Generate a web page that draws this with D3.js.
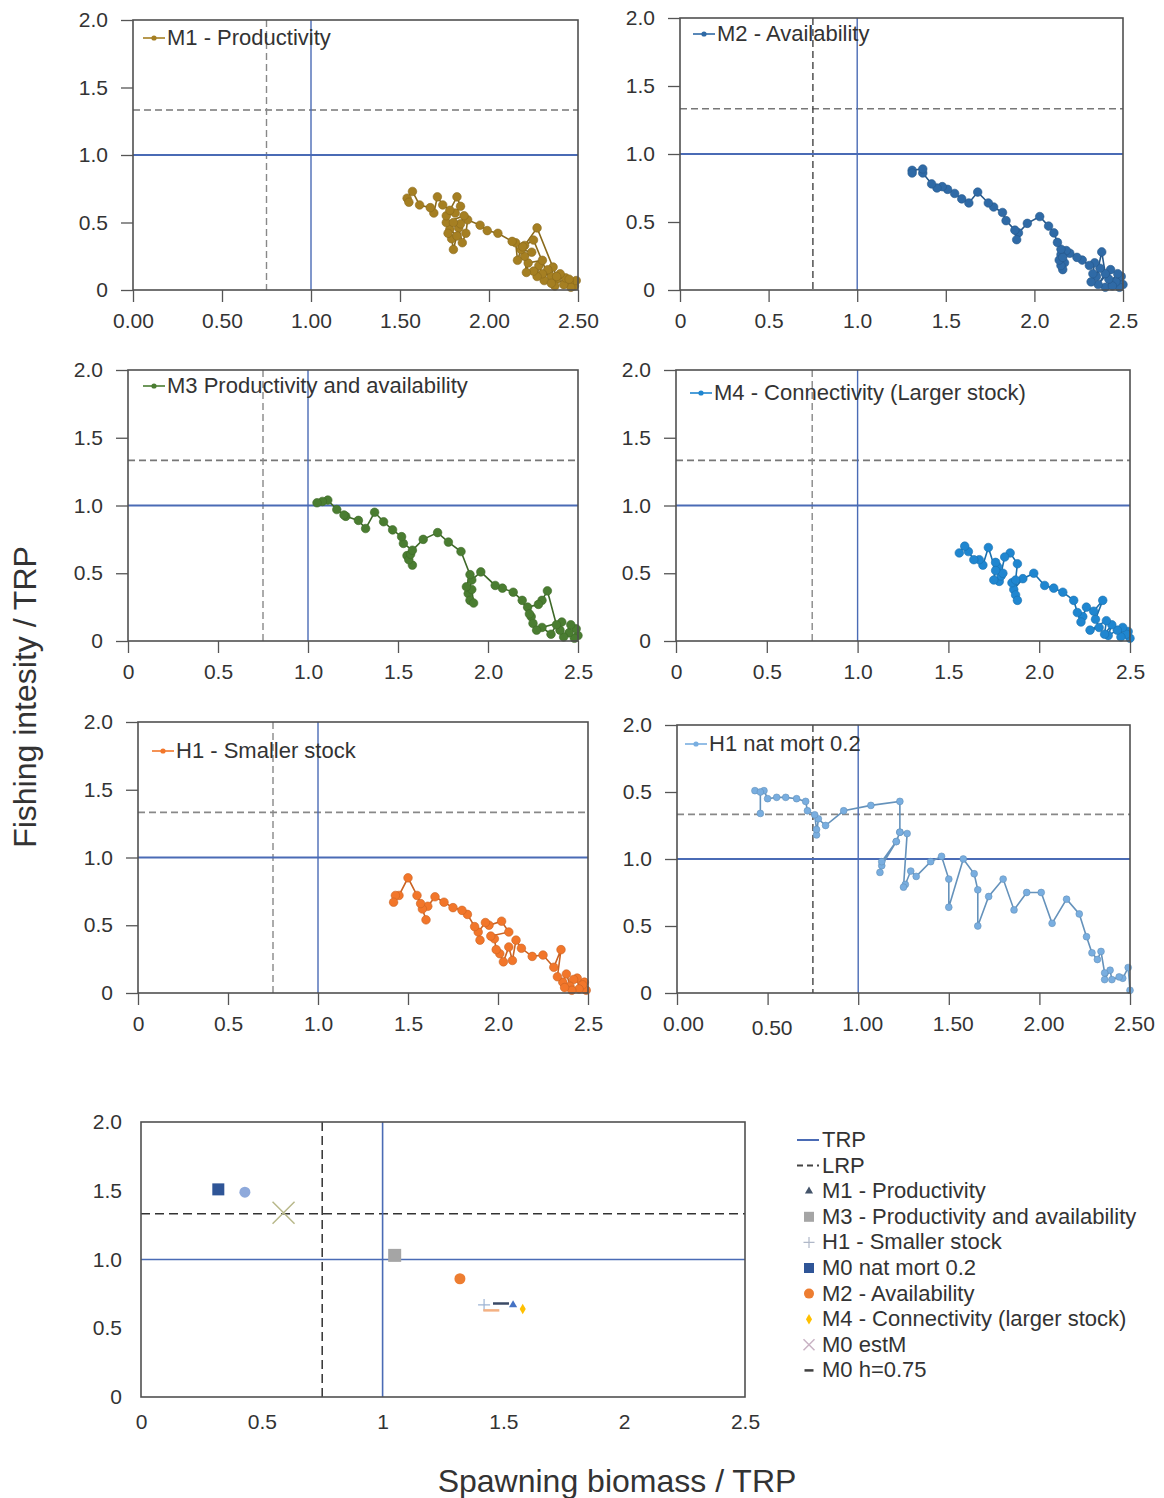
<!DOCTYPE html>
<html><head><meta charset="utf-8">
<script src="https://cdn.jsdelivr.net/npm/d3@7"></script>
<style>
body{margin:0;background:#fff}
svg{display:block}
text{font-family:"Liberation Sans",Arial,sans-serif;fill:#333}
</style>
</head><body>
<svg id="chart" width="1164" height="1498"></svg>
<script>
// ---------- data ----------
const X_TICK_VALUES = [0, 0.5, 1, 1.5, 2, 2.5];
const Y_TICK_VALUES = [0, 0.5, 1, 1.5, 2];
const X_LABELS_2DEC = ["0.00", "0.50", "1.00", "1.50", "2.00", "2.50"];
const X_LABELS_1DEC = ["0", "0.5", "1.0", "1.5", "2.0", "2.5"];
const X_LABELS_BOTTOM = ["0", "0.5", "1", "1.5", "2", "2.5"];
const Y_LABELS = ["0", "0.5", "1.0", "1.5", "2.0"];
const Y_LABELS_P6 = ["0", "0.5", "1.0", "0.5", "2.0"];
const TRP = 1.0;
const LRP_X = 0.75;
const LRP_Y = 1.333;

const M1 = [[2.48,0.03],[2.49,0.07],[2.45,0.06],[2.46,0.02],[2.42,0.04],[2.43,0.09],[2.38,0.08],[2.40,0.12],[2.37,0.03],[2.35,0.10],[2.36,0.17],[2.33,0.15],[2.31,0.07],[2.30,0.12],[2.28,0.18],[2.27,0.10],[2.25,0.14],[2.30,0.22],[2.22,0.20],[2.21,0.13],[2.20,0.25],[2.24,0.28],[2.18,0.30],[2.16,0.22],[2.15,0.35],[2.20,0.33],[2.27,0.46],[2.38,0.10],[2.45,0.08],[2.35,0.05],[2.25,0.37],[2.19,0.32],[2.13,0.36],[2.05,0.42],[1.99,0.44],[1.95,0.48],[1.88,0.52],[1.87,0.42],[1.85,0.35],[1.83,0.46],[1.80,0.30],[1.79,0.38],[1.82,0.40],[1.78,0.45],[1.76,0.50],[1.86,0.55],[1.84,0.49],[1.80,0.50],[1.77,0.42],[1.76,0.55],[1.81,0.57],[1.84,0.62],[1.82,0.69],[1.78,0.59],[1.74,0.63],[1.71,0.69],[1.69,0.57],[1.67,0.61],[1.61,0.63],[1.57,0.73],[1.54,0.68],[1.55,0.65]];
const M2 = [[2.50,0.04],[2.49,0.10],[2.48,0.02],[2.46,0.06],[2.47,0.12],[2.40,0.02],[2.44,0.03],[2.42,0.08],[2.43,0.15],[2.36,0.04],[2.40,0.12],[2.38,0.28],[2.35,0.10],[2.37,0.16],[2.32,0.06],[2.33,0.12],[2.34,0.20],[2.31,0.18],[2.27,0.22],[2.24,0.24],[2.20,0.27],[2.18,0.29],[2.15,0.26],[2.17,0.20],[2.16,0.15],[2.15,0.18],[2.14,0.22],[2.16,0.24],[2.15,0.30],[2.13,0.35],[2.11,0.42],[2.08,0.47],[2.03,0.54],[1.96,0.49],[1.91,0.42],[1.90,0.37],[1.89,0.44],[1.84,0.51],[1.82,0.57],[1.77,0.61],[1.74,0.64],[1.68,0.72],[1.63,0.64],[1.59,0.67],[1.55,0.71],[1.51,0.74],[1.48,0.76],[1.45,0.75],[1.42,0.78],[1.37,0.86],[1.37,0.89],[1.31,0.88],[1.31,0.86]];
const M3 = [[2.50,0.04],[2.49,0.09],[2.48,0.02],[2.45,0.06],[2.46,0.12],[2.42,0.03],[2.40,0.08],[2.41,0.14],[2.30,0.10],[2.35,0.05],[2.38,0.12],[2.33,0.37],[2.30,0.30],[2.28,0.27],[2.22,0.25],[2.24,0.18],[2.25,0.13],[2.23,0.20],[2.27,0.08],[2.19,0.30],[2.14,0.36],[2.08,0.39],[2.04,0.41],[1.96,0.51],[1.91,0.45],[1.89,0.35],[1.90,0.30],[1.92,0.28],[1.91,0.38],[1.88,0.40],[1.90,0.49],[1.85,0.66],[1.78,0.73],[1.72,0.80],[1.64,0.75],[1.55,0.63],[1.58,0.56],[1.56,0.60],[1.57,0.64],[1.58,0.67],[1.53,0.72],[1.52,0.77],[1.47,0.82],[1.42,0.88],[1.37,0.95],[1.32,0.83],[1.28,0.89],[1.21,0.92],[1.20,0.93],[1.16,0.97],[1.11,1.04],[1.08,1.03],[1.05,1.02]];
const M4 = [[2.50,0.02],[2.49,0.07],[2.48,0.05],[2.45,0.03],[2.46,0.10],[2.43,0.08],[2.38,0.04],[2.40,0.12],[2.36,0.05],[2.37,0.15],[2.28,0.08],[2.33,0.10],[2.31,0.16],[2.35,0.30],[2.30,0.22],[2.26,0.25],[2.24,0.18],[2.23,0.14],[2.21,0.21],[2.19,0.30],[2.13,0.36],[2.08,0.39],[2.03,0.41],[1.97,0.50],[1.91,0.46],[1.86,0.38],[1.85,0.43],[1.87,0.34],[1.88,0.30],[1.87,0.45],[1.88,0.57],[1.84,0.65],[1.81,0.62],[1.78,0.44],[1.79,0.48],[1.80,0.50],[1.77,0.55],[1.76,0.58],[1.75,0.45],[1.76,0.52],[1.72,0.69],[1.69,0.56],[1.67,0.60],[1.64,0.60],[1.61,0.66],[1.59,0.70],[1.56,0.65]];
const H1 = [[2.49,0.02],[2.48,0.08],[2.47,0.06],[2.45,0.03],[2.44,0.11],[2.42,0.10],[2.40,0.05],[2.41,0.02],[2.38,0.14],[2.36,0.08],[2.37,0.04],[2.33,0.12],[2.35,0.32],[2.31,0.19],[2.25,0.28],[2.19,0.27],[2.13,0.33],[2.10,0.39],[2.08,0.24],[2.06,0.34],[2.03,0.23],[2.01,0.29],[1.99,0.32],[1.98,0.40],[1.96,0.42],[2.06,0.45],[2.02,0.53],[1.95,0.50],[1.93,0.52],[1.89,0.45],[1.90,0.39],[1.87,0.49],[1.83,0.58],[1.80,0.61],[1.75,0.63],[1.70,0.67],[1.65,0.71],[1.61,0.64],[1.58,0.62],[1.60,0.54],[1.57,0.66],[1.55,0.72],[1.50,0.85],[1.45,0.72],[1.43,0.72],[1.42,0.67]];
const H1_NATMORT = [[2.50,0.02],[2.49,0.19],[2.46,0.11],[2.44,0.12],[2.40,0.10],[2.39,0.17],[2.36,0.10],[2.36,0.15],[2.34,0.31],[2.32,0.25],[2.29,0.30],[2.26,0.42],[2.22,0.59],[2.15,0.70],[2.07,0.52],[2.01,0.75],[1.93,0.75],[1.86,0.62],[1.80,0.85],[1.72,0.72],[1.66,0.50],[1.66,0.77],[1.64,0.89],[1.58,1.00],[1.50,0.64],[1.50,0.85],[1.46,1.02],[1.40,0.98],[1.32,0.87],[1.29,0.91],[1.26,0.81],[1.25,0.79],[1.27,1.19],[1.23,1.20],[1.21,1.13],[1.13,0.95],[1.12,0.90],[1.13,0.98],[1.21,1.13],[1.23,1.20],[1.23,1.43],[1.07,1.40],[0.92,1.36],[0.82,1.25],[0.78,1.30],[0.77,1.18],[0.77,1.22],[0.76,1.33],[0.72,1.36],[0.71,1.43],[0.66,1.45],[0.60,1.46],[0.55,1.46],[0.50,1.45],[0.48,1.51],[0.43,1.51],[0.46,1.50],[0.46,1.34]];

const PANEL_TITLES = ["M1 - Productivity", "M2 - Availability", "M3 Productivity and availability", "M4 - Connectivity (Larger stock)", "H1 - Smaller stock", "H1 nat mort 0.2"];
const PANEL_COLORS = ["#a57f22", "#2f6aa6", "#4a7d31", "#1f86d0", "#f2762a", "#79aee0"];

const SUMMARY_NAMES = ["M0 nat mort 0.2", "H1 nat mort 0.2", "M0 estM", "M3 - Productivity and availability", "M2 - Availability", "H1 - Smaller stock", "M0 h=0.75", "M1 - Productivity", "M4 - Connectivity (larger stock)", "M0 h=0.75 (alt)"];
const SUMMARY_X = [0.32, 0.43, 0.59, 1.05, 1.32, 1.42, 1.49, 1.54, 1.58, 1.45];
const SUMMARY_Y = [1.51, 1.49, 1.34, 1.03, 0.86, 0.67, 0.68, 0.67, 0.64, 0.63];
const SUMMARY_SHAPES = ["square", "circle", "cross", "square", "circle", "plus", "dash", "triangle", "diamond", "dash"];
const SUMMARY_COLORS = ["#2f5597", "#8ea9db", "#b8b88a", "#a5a5a5", "#ed7d31", "#9db4d4", "#3b4a66", "#4472c4", "#ffc000", "#f4b183"];

const LEGEND_LABELS = ["TRP", "LRP", "M1 - Productivity", "M3 - Productivity and availability", "H1 - Smaller stock", "M0 nat mort 0.2", "M2 - Availability", "M4 - Connectivity (larger stock)", "M0 estM", "M0 h=0.75"];
const LEGEND_SHAPES = ["line", "dashline", "triangle", "square", "plus", "square", "circle", "diamond", "cross", "dash"];
const LEGEND_COLORS = ["#4a6bb5", "#444", "#44546a", "#a5a5a5", "#b0b8c8", "#2f5597", "#ed7d31", "#ffc000", "#c9b3c4", "#404040"];

// ---------- layout ----------
const svg = d3.select("#chart");
const FONT_TICK = 21;
const FONT_LEG = 22;
const TRP_COLOR = "#4a6bb5";

const PANELS = [
  {l:133, r:578, t:20, b:290, data:M1, xl:X_LABELS_2DEC, yl:Y_LABELS, lrpV:"#888", lrpH:"#777", leg:[10,18]},
  {l:680, r:1123, t:18, b:290, data:M2, xl:X_LABELS_1DEC, yl:Y_LABELS, lrpV:"#444", lrpH:"#777", leg:[13,16]},
  {l:128, r:578, t:370, b:641, data:M3, xl:X_LABELS_1DEC, yl:Y_LABELS, lrpV:"#888", lrpH:"#777", leg:[15,16]},
  {l:676, r:1130, t:370, b:641, data:M4, xl:X_LABELS_1DEC, yl:Y_LABELS, lrpV:"#888", lrpH:"#777", leg:[14,23]},
  {l:138, r:588, t:722, b:993, data:H1, xl:X_LABELS_1DEC, yl:Y_LABELS, lrpV:"#888", lrpH:"#888", leg:[14,29]},
  {l:677, r:1130, t:725, b:993, data:H1_NATMORT, xl:X_LABELS_2DEC, yl:Y_LABELS_P6, lrpV:"#444", lrpH:"#888", leg:[8,19]}
];

function styleAxis(g){
  g.select(".domain").remove();
  g.selectAll(".tick line").attr("stroke","#555").attr("stroke-width",1.3);
  g.selectAll(".tick text").attr("font-size",FONT_TICK).attr("fill","#333")
    .style("font-family",'"Liberation Sans",Arial,sans-serif');
}

PANELS.forEach((p, i) => {
  const x = d3.scaleLinear().domain([0, 2.5]).range([p.l, p.r]);
  const y = d3.scaleLinear().domain([0, 2]).range([p.b, p.t]);
  const g = svg.append("g");
  const color = PANEL_COLORS[i];

  // reference lines
  g.append("line").attr("x1",p.l).attr("x2",p.r).attr("y1",y(LRP_Y)).attr("y2",y(LRP_Y))
    .attr("stroke",p.lrpH).attr("stroke-width",1.6).attr("stroke-dasharray","7,4");
  g.append("line").attr("x1",x(LRP_X)).attr("x2",x(LRP_X)).attr("y1",p.t).attr("y2",p.b)
    .attr("stroke",p.lrpV).attr("stroke-width",1.4).attr("stroke-dasharray","7,4");
  g.append("line").attr("x1",p.l).attr("x2",p.r).attr("y1",y(TRP)).attr("y2",y(TRP))
    .attr("stroke",TRP_COLOR).attr("stroke-width",1.8);
  g.append("line").attr("x1",x(TRP)).attr("x2",x(TRP)).attr("y1",p.t).attr("y2",p.b)
    .attr("stroke",TRP_COLOR).attr("stroke-width",1.4);

  // trajectory
  const lineColor = d3.color(color).darker(0.5).formatHex();
  g.append("path").datum(p.data)
    .attr("d", d3.line().x(d => x(d[0])).y(d => y(d[1])))
    .attr("fill","none").attr("stroke",lineColor).attr("stroke-width",1.6);
  const rad = i === 5 ? 3.4 : 4.3;
  g.selectAll("circle.pt").data(p.data).enter().append("circle")
    .attr("class","pt").attr("cx",d => x(d[0])).attr("cy",d => y(d[1]))
    .attr("r",rad).attr("fill",color).attr("stroke",lineColor).attr("stroke-width",0.6);

  // frame
  g.append("rect").attr("x",p.l).attr("y",p.t).attr("width",p.r-p.l).attr("height",p.b-p.t)
    .attr("fill","none").attr("stroke","#505050").attr("stroke-width",1.6);

  // axes
  const ax = g.append("g").attr("transform",`translate(0,${p.b})`)
    .call(d3.axisBottom(x).tickValues(X_TICK_VALUES).tickFormat((d,k) => p.xl[k]).tickSize(12).tickPadding(11));
  styleAxis(ax);
  if (i === 5) ax.selectAll(".tick text").attr("dx", (d,k) => k === 0 ? 6 : 4).attr("dy", (d,k) => k === 1 ? "0.9em" : "0.71em");
  const ay = g.append("g").attr("transform",`translate(${p.l},0)`)
    .call(d3.axisLeft(y).tickValues(Y_TICK_VALUES).tickFormat((d,k) => p.yl[k]).tickSize(12).tickPadding(13));
  styleAxis(ay);

  // inner legend
  const lx = p.l + p.leg[0], ly = p.t + p.leg[1];
  g.append("line").attr("x1",lx).attr("x2",lx+22).attr("y1",ly).attr("y2",ly)
    .attr("stroke",color).attr("stroke-width",1.6);
  g.append("circle").attr("cx",lx+11).attr("cy",ly).attr("r",2.6).attr("fill",color);
  g.append("text").attr("x",lx+24).attr("y",ly+7).attr("font-size",FONT_LEG).attr("fill","#222")
    .text(PANEL_TITLES[i]);
});

// ---------- summary panel ----------
const S = {l:141, r:745, t:1122, b:1397};
const sx = d3.scaleLinear().domain([0, 2.5]).range([S.l, S.r]);
const sy = d3.scaleLinear().domain([0, 2]).range([S.b, S.t]);
const sg = svg.append("g");
sg.append("line").attr("x1",S.l).attr("x2",S.r).attr("y1",sy(LRP_Y)).attr("y2",sy(LRP_Y))
  .attr("stroke","#333").attr("stroke-width",1.5).attr("stroke-dasharray","9,5");
sg.append("line").attr("x1",sx(LRP_X)).attr("x2",sx(LRP_X)).attr("y1",S.t).attr("y2",S.b)
  .attr("stroke","#333").attr("stroke-width",1.5).attr("stroke-dasharray","9,5");
sg.append("line").attr("x1",S.l).attr("x2",S.r).attr("y1",sy(TRP)).attr("y2",sy(TRP))
  .attr("stroke",TRP_COLOR).attr("stroke-width",1.6);
sg.append("line").attr("x1",sx(TRP)).attr("x2",sx(TRP)).attr("y1",S.t).attr("y2",S.b)
  .attr("stroke",TRP_COLOR).attr("stroke-width",1.6);

function drawShape(g, shape, cx, cy, color, size) {
  const s = size;
  if (shape === "square") {
    g.append("rect").attr("x",cx-s/2).attr("y",cy-s/2).attr("width",s).attr("height",s).attr("fill",color);
  } else if (shape === "circle") {
    g.append("circle").attr("cx",cx).attr("cy",cy).attr("r",s/2).attr("fill",color);
  } else if (shape === "triangle") {
    g.append("path").attr("d",d3.symbol().type(d3.symbolTriangle).size(s*s*0.45)()).attr("transform",`translate(${cx},${cy})`).attr("fill",color);
  } else if (shape === "diamond") {
    g.append("path").attr("d",d3.symbol().type(d3.symbolDiamond).size(s*s*0.5)()).attr("transform",`translate(${cx},${cy})`).attr("fill",color);
  } else if (shape === "cross") {
    g.append("path").attr("d",`M${cx-s/2},${cy-s/2}L${cx+s/2},${cy+s/2}M${cx-s/2},${cy+s/2}L${cx+s/2},${cy-s/2}`).attr("stroke",color).attr("stroke-width",1.5);
  } else if (shape === "plus") {
    g.append("path").attr("d",`M${cx-s/2},${cy}L${cx+s/2},${cy}M${cx},${cy-s/2}L${cx},${cy+s/2}`).attr("stroke",color).attr("stroke-width",1.2);
  } else if (shape === "dash") {
    g.append("line").attr("x1",cx-s/2).attr("x2",cx+s/2).attr("y1",cy).attr("y2",cy).attr("stroke",color).attr("stroke-width",2.5);
  } else if (shape === "line") {
    g.append("line").attr("x1",cx-s/2).attr("x2",cx+s/2).attr("y1",cy).attr("y2",cy).attr("stroke",color).attr("stroke-width",2);
  } else if (shape === "dashline") {
    g.append("line").attr("x1",cx-s/2).attr("x2",cx+s/2).attr("y1",cy).attr("y2",cy).attr("stroke",color).attr("stroke-width",2).attr("stroke-dasharray","6,4");
  }
}

const SUMMARY_SIZES = [12, 11, 22, 13, 11, 12, 16, 8, 8, 16];
SUMMARY_X.forEach((v, k) => {
  drawShape(sg, SUMMARY_SHAPES[k], sx(v), sy(SUMMARY_Y[k]), SUMMARY_COLORS[k], SUMMARY_SIZES[k]);
});

sg.append("rect").attr("x",S.l).attr("y",S.t).attr("width",S.r-S.l).attr("height",S.b-S.t)
  .attr("fill","none").attr("stroke","#505050").attr("stroke-width",1.6);
const sax = sg.append("g").attr("transform",`translate(0,${S.b})`)
  .call(d3.axisBottom(sx).tickValues(X_TICK_VALUES).tickFormat((d,k) => X_LABELS_BOTTOM[k]).tickSize(0).tickPadding(17));
styleAxis(sax);
const say = sg.append("g").attr("transform",`translate(${S.l},0)`)
  .call(d3.axisLeft(sy).tickValues(Y_TICK_VALUES).tickFormat((d,k) => Y_LABELS[k]).tickSize(0).tickPadding(19));
styleAxis(say);

// legend
const LEG_X = 809, LEG_Y0 = 1140, LEG_DY = 25.6;
LEGEND_LABELS.forEach((lab, k) => {
  const cy = LEG_Y0 + k * LEG_DY;
  const shape = LEGEND_SHAPES[k];
  let size = 8;
  if (shape === "line" || shape === "dashline") size = 22;
  if (shape === "square" || shape === "circle") size = 10;
  if (shape === "dash") size = 9;
  if (shape === "cross" || shape === "plus") size = 11;
  const sxp = (shape === "line" || shape === "dashline") ? LEG_X - 1 : LEG_X;
  drawShape(svg, shape, sxp, cy, LEGEND_COLORS[k], size);
  svg.append("text").attr("x", 822).attr("y", cy + 7)
    .attr("font-size", FONT_LEG).attr("fill", "#222").text(lab);
});

// axis titles
svg.append("text").attr("transform","translate(36,697) rotate(-90)").attr("text-anchor","middle")
  .attr("font-size",32).attr("fill","#222").text("Fishing intesity / TRP");
svg.append("text").attr("x",617).attr("y",1492).attr("text-anchor","middle")
  .attr("font-size",32).attr("fill","#222").text("Spawning biomass / TRP");
</script>
</body></html>
